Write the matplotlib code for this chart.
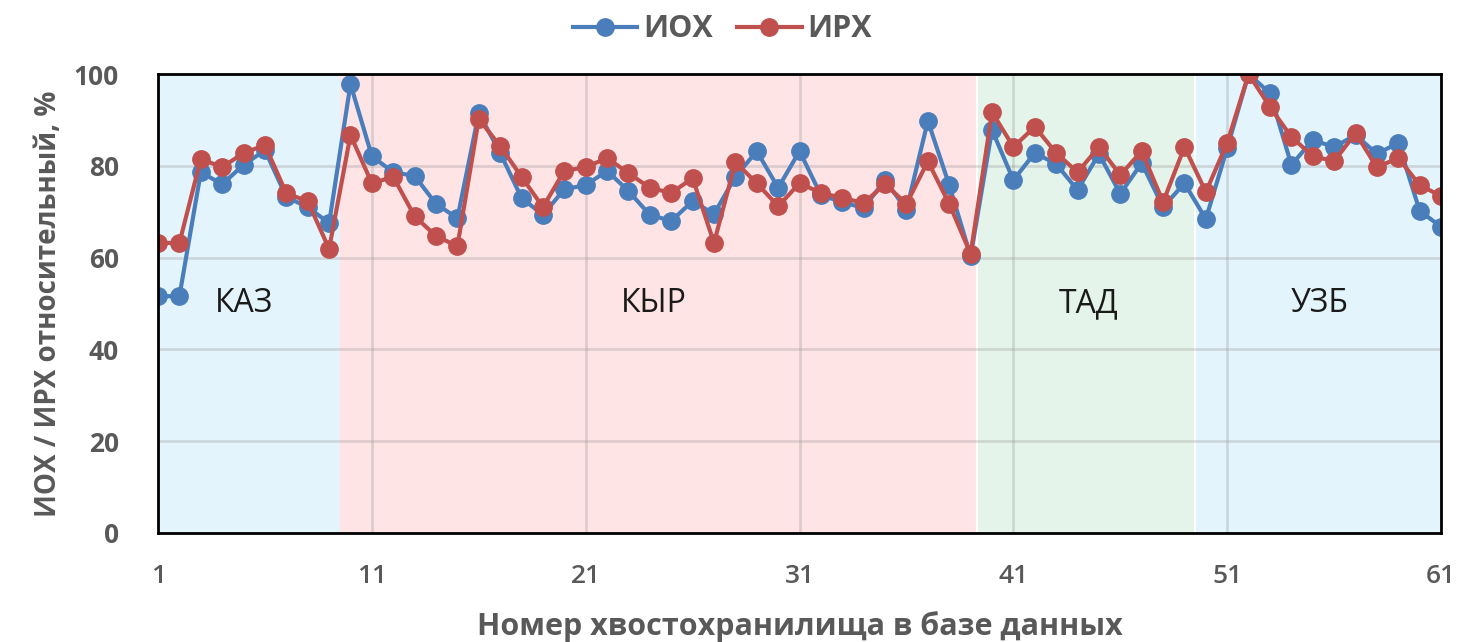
import numpy as np
import matplotlib
matplotlib.use("Agg")
import matplotlib.pyplot as plt

plt.rcParams["font.family"] = ["Open Sans", "DejaVu Sans"]

# Номера хвостохранилищ 1..61
nums = list(range(1, 62))

iox = [51.6, 51.6, 78.6, 76.0, 80.2, 83.4, 73.2, 71.0, 67.5, 97.8,
       82.1, 78.6, 77.8, 71.7, 68.6, 91.5, 82.8, 73.0, 69.3, 74.9,
       75.8, 78.9, 74.5, 69.3, 68.0, 72.3, 69.5, 77.6, 83.2, 75.2,
       83.2, 73.6, 72.1, 70.8, 76.9, 70.4, 89.8, 75.8, 60.3, 87.8,
       76.9, 82.8, 80.4, 74.7, 82.6, 73.9, 80.6, 71.0, 76.2, 68.4,
       83.9, 100.0, 95.8, 80.2, 85.6, 84.1, 86.7, 82.6, 85.0, 70.2,
       66.7]

irx = [63.2, 63.2, 81.5, 79.7, 82.8, 84.5, 74.0, 72.3, 61.9, 86.7,
       76.2, 77.6, 69.0, 64.7, 62.5, 90.2, 84.3, 77.6, 71.0, 78.9,
       79.7, 81.7, 78.4, 75.2, 74.1, 77.3, 63.2, 80.8, 76.2, 71.2,
       76.2, 74.1, 73.0, 71.9, 76.0, 71.7, 81.0, 71.7, 60.8, 91.7,
       84.1, 88.5, 82.8, 78.6, 84.1, 78.0, 83.2, 72.1, 84.1, 74.3,
       85.0, 100.0, 92.8, 86.3, 82.1, 81.0, 87.1, 79.7, 81.7, 75.8,
       73.4]

# Страны: подпись, начало, конец зоны, позиция подписи
regions = ["КАЗ", "КЫР", "ТАД", "УЗБ"]
region_start = [1, 9.5, 39.3, 49.5]
region_end = [9.5, 39.3, 49.5, 61]
region_label_x = [5.0, 24.2, 44.5, 55.3]
region_colors = ["#E3F4FC", "#FFE4E6", "#E4F4EA", "#E3F4FC"]

fig = plt.figure(figsize=(14.66, 6.42), dpi=100)
ax = fig.add_axes([0.1078, 0.1698, 0.8752, 0.7149])

for name, x0, x1, lx, c in zip(regions, region_start, region_end,
                               region_label_x, region_colors):
    ax.axvspan(x0, x1, color=c, zorder=0, lw=0)
    ax.text(lx, 50, name, ha="center", va="center", fontsize=23,
            color="#1a1a1a", zorder=3)

for xb in [39.3, 49.5]:
    ax.axvline(xb, color="white", lw=1.5, zorder=1)

ax.plot(nums, iox, "-o", color="#4A7EBB", lw=3, ms=12.5, label="ИОХ", zorder=4)
ax.plot(nums, irx, "-o", color="#C0504D", lw=3, ms=12.5, label="ИРХ", zorder=5)

ax.set_xlim(1, 61)
ax.set_ylim(0, 100)
ax.set_xticks(range(1, 62, 10))
ax.set_yticks(range(0, 101, 20))
ax.grid(True, color="#9a9a9a", alpha=0.32, lw=2, zorder=2)
ax.set_axisbelow(False)
for line in ax.get_xgridlines() + ax.get_ygridlines():
    line.set_zorder(2)

ax.tick_params(length=0, labelcolor="#595959")
ax.tick_params(axis="x", pad=22, labelsize=19)
ax.tick_params(axis="y", pad=28, labelsize=19)
for lab in ax.get_xticklabels():
    lab.set_fontweight("semibold")
for lab in ax.get_yticklabels():
    lab.set_fontweight("bold")

for sp in ax.spines.values():
    sp.set_color("black")
    sp.set_linewidth(2)
    sp.set_zorder(6)

ax.set_xlabel("Номер хвостохранилища в базе данных", fontsize=22,
              fontweight="bold", color="#595959", labelpad=16)
ax.set_ylabel("ИОХ / ИРХ относительный, %", fontsize=20,
              fontweight="bold", color="#595959", labelpad=8)

leg = ax.legend(loc="lower center", bbox_to_anchor=(0.44, 1.005), ncol=2,
                frameon=False, fontsize=22, handlelength=2.1,
                columnspacing=0.8, handletextpad=0.2)
for t in leg.get_texts():
    t.set_color("#595959")
    t.set_fontweight("bold")

fig.savefig("out.png", dpi=100)
